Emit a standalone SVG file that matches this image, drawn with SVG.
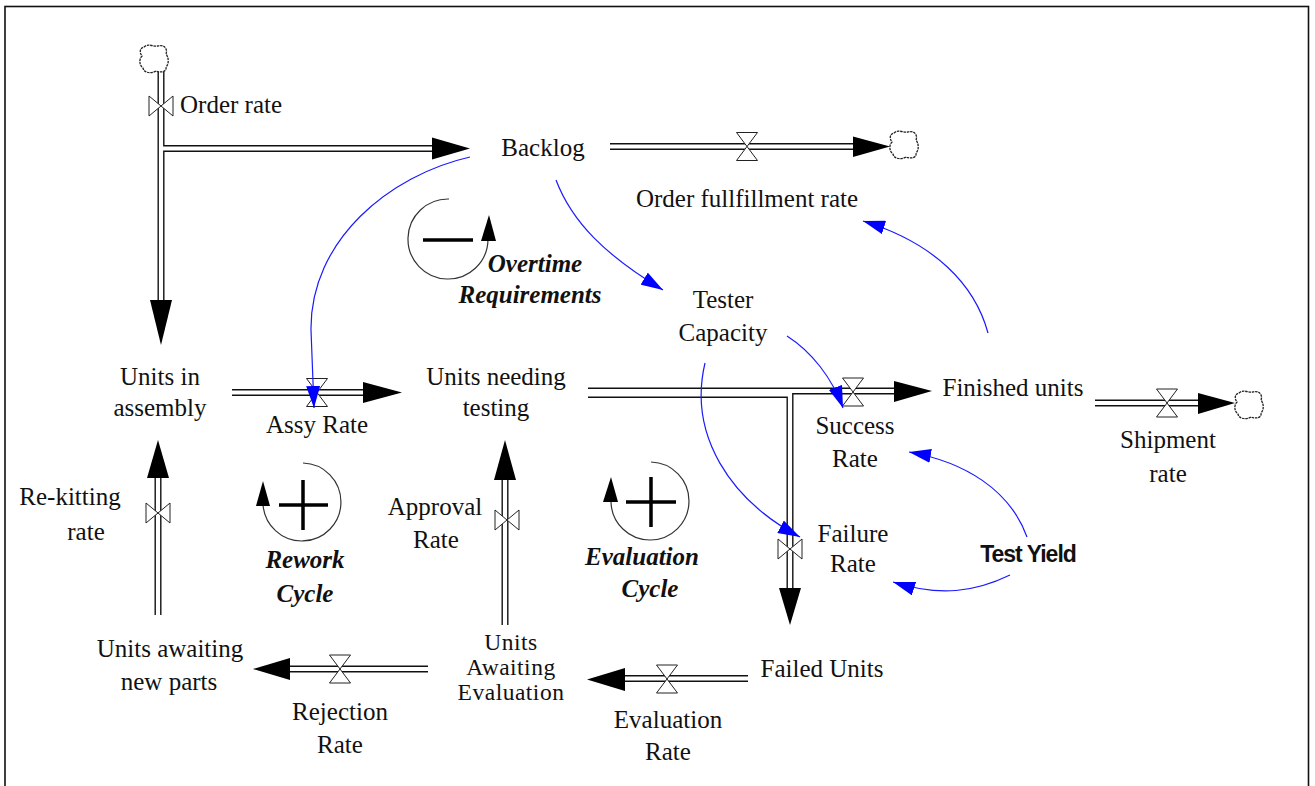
<svg xmlns="http://www.w3.org/2000/svg" xmlns:xlink="http://www.w3.org/1999/xlink" width="1315" height="786" viewBox="0 0 1315 786">
<style>
text{font-family:"Liberation Serif","Times New Roman",serif;font-size:25px;fill:#111;text-anchor:middle}
text.s{text-anchor:start}
text.sm{font-size:23.5px;letter-spacing:0.5px}
text.loop{font-weight:bold;font-style:italic}
text.ty{font-family:"Liberation Sans",Arial,sans-serif;font-weight:bold;font-size:23px;letter-spacing:-1px}
.po{fill:none;stroke:#111;stroke-width:7}
.pi{fill:none;stroke:#fff;stroke-width:4.2}
.valve{fill:#fff;stroke:#222;stroke-width:1}
.head{fill:#000;stroke:none}
.link{fill:none;stroke:#1a1aff;stroke-width:1.2;marker-end:url(#ba)}
.cloud{fill:#fff;stroke:#222;stroke-width:1.3;stroke-dasharray:2.5 0.8}
.loopc{fill:none;stroke:#333;stroke-width:1.2}
.sign{stroke:#000;stroke-width:3.5;fill:none}
</style>
<defs>
<marker id="ba" viewBox="0 0 22 14" refX="22" refY="7" markerWidth="22" markerHeight="14" markerUnits="userSpaceOnUse" orient="auto">
<path d="M0,0 L22,7 L0,14 Z" fill="#0000ff"/>
</marker>
<path id="cl" class="cloud" d="M-10,-12 C-6,-16 0,-12 4,-13 C10,-15 14,-10 12,-5 C15,-1 15,5 12,8 C13,13 6,14 2,12 C-3,15 -10,14 -11,9 C-15,6 -15,0 -12,-3 C-15,-7 -14,-11 -10,-12 Z"/>
<path id="vh" class="valve" d="M-10.5,-14 L10.5,-14 L-10.5,14 L10.5,14 Z"/>
<path id="vv" class="valve" d="M-12,-10 L-12,10 L12,-10 L12,10 Z"/>
</defs>
<rect x="5" y="6.5" width="1303.5" height="800" fill="none" stroke="#111" stroke-width="1.6"/>

<g id="connectors">
<path class="po" d="M161,72 L161,302 M161,148.5 L434,148.5"/>
<path class="po" d="M610,146.5 L856,146.5"/>
<path class="po" d="M232,392.5 L365,392.5"/>
<path class="po" d="M588,391 L896,391"/>
<path class="po" d="M588,394.5 L790,394.5 L790,590"/>
<path class="po" d="M1095,403 L1200,403"/>
<path class="po" d="M158,615 L158,476"/>
<path class="po" d="M505,625 L505,478"/>
<path class="po" d="M748,678.5 L623,678.5"/>
<path class="po" d="M428,669 L288,669"/>
<path class="pi" d="M161,72 L161,302 M161,148.5 L434,148.5"/>
<path class="pi" d="M610,146.5 L856,146.5"/>
<path class="pi" d="M232,392.5 L365,392.5"/>
<path class="pi" d="M588,391 L896,391"/>
<path class="pi" d="M588,394.5 L790,394.5 L790,590"/>
<path class="pi" d="M1095,403 L1200,403"/>
<path class="pi" d="M158,615 L158,476"/>
<path class="pi" d="M505,625 L505,478"/>
<path class="pi" d="M748,678.5 L623,678.5"/>
<path class="pi" d="M428,669 L288,669"/>
<polygon class="head" points="150,300 172,300 161,345"/>
<polygon class="head" points="432,137.5 432,159.5 470,148.5"/>
<polygon class="head" points="853,136.5 853,157 890,146.5"/>
<polygon class="head" points="363,382 363,403 402,392.5"/>
<polygon class="head" points="894,381 894,402 932,391"/>
<polygon class="head" points="779,588 801,588 790,625"/>
<polygon class="head" points="1198,393 1198,414 1235,403"/>
<polygon class="head" points="147,478 169,478 158,440"/>
<polygon class="head" points="494,480 516,480 505,440"/>
<polygon class="head" points="625,668 625,691 587,679.5"/>
<polygon class="head" points="290,658 290,680 253,669"/>
<use xlink:href="#cl" x="154" y="59"/>
<use xlink:href="#cl" x="904" y="145"/>
<use xlink:href="#cl" x="1249" y="405"/>
<use xlink:href="#vv" x="161" y="106"/>
<use xlink:href="#vh" x="747" y="146.5"/>
<use xlink:href="#vh" x="317" y="392.5"/>
<use xlink:href="#vh" x="853" y="392"/>
<use xlink:href="#vv" x="790" y="549"/>
<use xlink:href="#vh" x="1167" y="403"/>
<use xlink:href="#vv" x="158" y="513"/>
<use xlink:href="#vv" x="507" y="520"/>
<use xlink:href="#vh" x="667" y="679"/>
<use xlink:href="#vh" x="340" y="669"/>
<path class="link" d="M470,157 C390,175 310,240 311,330 L314,408"/>
<path class="link" d="M556,180 C572,222 605,255 663,290"/>
<path class="link" d="M988,333 C975,285 935,243 863,221"/>
<path class="link" d="M787,336 C812,352 832,378 843,408"/>
<path class="link" d="M705,363 C688,435 730,500 800,537"/>
<path class="link" d="M1027,537 C1010,490 965,462 909,452"/>
<path class="link" d="M1010,575 C975,592 940,597 893,582"/>
</g>

<g id="node-order-rate"><text class="s" x="180" y="113">Order rate</text></g>
<g id="node-backlog"><text x="543" y="156">Backlog</text></g>
<g id="node-order-fulfillment-rate"><text x="747" y="207">Order fullfillment rate</text></g>
<g id="node-tester-capacity"><text x="723" y="308">Tester</text><text x="723" y="341">Capacity</text></g>
<g id="node-units-in-assembly"><text x="160" y="385">Units in</text><text x="160" y="416">assembly</text></g>
<g id="node-assy-rate"><text x="317" y="433">Assy Rate</text></g>
<g id="node-units-needing-testing"><text x="496" y="385">Units needing</text><text x="496" y="416">testing</text></g>
<g id="node-finished-units"><text x="1013" y="396">Finished units</text></g>
<g id="node-success-rate"><text x="855" y="434">Success</text><text x="855" y="467">Rate</text></g>
<g id="node-shipment-rate"><text x="1168" y="448">Shipment</text><text x="1168" y="482">rate</text></g>
<g id="node-rekitting-rate"><text x="70" y="505">Re-kitting</text><text x="86" y="540">rate</text></g>
<g id="node-approval-rate"><text x="435" y="515">Approval</text><text x="436" y="548">Rate</text></g>
<g id="node-failure-rate"><text x="853" y="542">Failure</text><text x="853" y="572">Rate</text></g>
<g id="node-test-yield"><text class="ty" x="1028" y="562">Test Yield</text></g>
<g id="node-failed-units"><text x="822" y="677">Failed Units</text></g>
<g id="node-evaluation-rate"><text x="668" y="728">Evaluation</text><text x="668" y="760">Rate</text></g>
<g id="node-units-awaiting-evaluation"><text class="sm" x="511" y="650">Units</text><text class="sm" x="511" y="675">Awaiting</text><text class="sm" x="511" y="700">Evaluation</text></g>
<g id="node-rejection-rate"><text x="340" y="720">Rejection</text><text x="340" y="753">Rate</text></g>
<g id="node-units-awaiting-new-parts"><text x="170" y="657">Units awaiting</text><text x="169" y="690">new parts</text></g>

<g id="loop-overtime">
<path class="loopc" d="M449,199 A40,40 0 1 0 488,240"/>
<polygon class="head" points="489,215 481,241 496,241"/>
<line class="sign" x1="423" y1="240" x2="473" y2="240"/>
<text class="loop" x="535" y="272">Overtime</text>
<text class="loop" x="530" y="303">Requirements</text>
</g>
<g id="loop-rework">
<path class="loopc" d="M303,463 A39,39 0 1 1 263,504"/>
<polygon class="head" points="263,481 256,506 270,506"/>
<path class="sign" d="M279,505 L328,505 M303,480 L303,530"/>
<text class="loop" x="305" y="568">Rework</text>
<text class="loop" x="305" y="602">Cycle</text>
</g>
<g id="loop-evaluation">
<path class="loopc" d="M651,462 A39,39 0 1 1 611,502"/>
<polygon class="head" points="611,477 603,502 618,502"/>
<path class="sign" d="M626,502 L676,502 M651,477 L651,527"/>
<text class="loop" x="642" y="565">Evaluation</text>
<text class="loop" x="650" y="597">Cycle</text>
</g>
</svg>
